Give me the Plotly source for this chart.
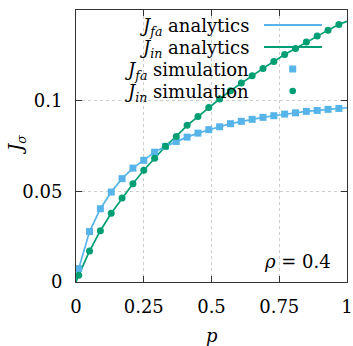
import plotly.graph_objects as go

# ---- data ----
p_sim = [0.01, 0.05, 0.09, 0.13, 0.17, 0.21, 0.25, 0.29, 0.33, 0.37, 0.41, 0.45, 0.49,
         0.53, 0.57, 0.61, 0.65, 0.69, 0.73, 0.77, 0.81, 0.85, 0.89, 0.93, 0.97]
J_fa_sim = [0.0074, 0.0278, 0.0404, 0.0496, 0.0570, 0.0628, 0.0671, 0.0716, 0.0748, 0.0775,
            0.0799, 0.0821, 0.0840, 0.0856, 0.0873, 0.0886, 0.0897, 0.0908, 0.0917, 0.0926,
            0.0933, 0.0941, 0.0946, 0.0952, 0.0957]
J_in_sim = [0.0037, 0.0171, 0.0283, 0.0379, 0.0463, 0.0542, 0.0616, 0.0683, 0.0748, 0.0803,
            0.0864, 0.0912, 0.0963, 0.1009, 0.1055, 0.1097, 0.1137, 0.1178, 0.1216, 0.1255,
            0.1288, 0.1323, 0.1356, 0.1389, 0.1420]

p_an = [0.0] + p_sim + [1.0]
J_fa_an = [0.0] + J_fa_sim + [0.0961]
J_in_an = [0.0] + J_in_sim + [0.1438]

x_ticks = [0, 0.25, 0.5, 0.75, 1]
x_tick_text = ["0", "0.25", "0.5", "0.75", "1"]
y_ticks = [0, 0.05, 0.1, 0.15]
y_tick_text = ["0", "0.05", "0.1", "0.15"]

legend_labels = ["<i>J</i><sub><i>fa</i></sub> analytics",
                 "<i>J</i><sub><i>in</i></sub> analytics",
                 "<i>J</i><sub><i>fa</i></sub> simulation",
                 "<i>J</i><sub><i>in</i></sub> simulation"]

BLUE = "#56B4E9"
GREEN = "#009E73"
FONT = "DejaVu Serif, Liberation Serif, DejaVu Sans"
FS = 18

W, H = 353, 346
ML, MR, MT, MB = 76, 6, 10, 64
PW, PH = W - ML - MR, H - MT - MB


def xp(px):
    return (px - ML) / PW


def yp(py):
    return (H - MB - py) / PH


fig = go.Figure()
fig.add_trace(go.Scatter(x=p_an, y=J_fa_an, mode="lines", line=dict(color=BLUE, width=1.7),
                         name="J_fa analytics", showlegend=False))
fig.add_trace(go.Scatter(x=p_an, y=J_in_an, mode="lines", line=dict(color=GREEN, width=1.7),
                         name="J_in analytics", showlegend=False))
fig.add_trace(go.Scatter(x=p_sim, y=J_fa_sim, mode="markers",
                         marker=dict(symbol="square", size=7, color=BLUE),
                         name="J_fa simulation", showlegend=False))
fig.add_trace(go.Scatter(x=p_sim, y=J_in_sim, mode="markers",
                         marker=dict(symbol="circle", size=7, color=GREEN),
                         name="J_in simulation", showlegend=False))

shapes = []
# opaque key box (hides grid, not data)
shapes.append(dict(type="rect", xref="paper", yref="paper", layer="between",
                   x0=xp(80), x1=xp(335), y0=yp(99.5), y1=yp(12),
                   fillcolor="white", line=dict(width=0)))
rows = [25, 47, 69, 91]
# line samples
for py, col in zip(rows[:2], [BLUE, GREEN]):
    shapes.append(dict(type="line", xref="paper", yref="paper", layer="above",
                       x0=xp(264), x1=xp(322), y0=yp(py), y1=yp(py),
                       line=dict(color=col, width=2)))
# marker samples
mx = 292.7
shapes.append(dict(type="rect", xref="paper", yref="paper", layer="above",
                   x0=xp(mx - 3.5), x1=xp(mx + 3.5), y0=yp(rows[2] + 3.5), y1=yp(rows[2] - 3.5),
                   fillcolor=BLUE, line=dict(width=0)))
shapes.append(dict(type="circle", xref="paper", yref="paper", layer="above",
                   x0=xp(mx - 3.3), x1=xp(mx + 3.3), y0=yp(rows[3] + 3.3), y1=yp(rows[3] - 3.3),
                   fillcolor=GREEN, line=dict(width=0)))

annotations = []
for py, lab in zip(rows, legend_labels):
    annotations.append(dict(xref="paper", yref="paper", x=xp(251), y=yp(py + 2),
                            xanchor="right", yanchor="middle", text=lab, showarrow=False,
                            font=dict(family=FONT, size=FS, color="black")))
annotations.append(dict(xref="paper", yref="paper", x=xp(333), y=yp(261),
                        xanchor="right", yanchor="middle", text="<i>ρ</i> = 0.4",
                        showarrow=False, font=dict(family=FONT, size=FS, color="black")))
annotations.append(dict(xref="paper", yref="paper", x=xp(17), y=yp(145),
                        xanchor="center", yanchor="middle", textangle=-90,
                        text="<i>J</i><sub><i>σ</i></sub>", showarrow=False,
                        font=dict(family=FONT, size=FS, color="black")))
annotations.append(dict(xref="paper", yref="paper", x=xp(211.5), y=yp(335),
                        xanchor="center", yanchor="middle",
                        text="<i>p</i>", showarrow=False,
                        font=dict(family=FONT, size=FS, color="black")))

axis_common = dict(showline=True, linecolor="#333333", linewidth=1, mirror="ticks",
                   ticks="inside", ticklen=6, tickcolor="#333333", tickwidth=1,
                   showgrid=True, gridcolor="#cccccc", griddash="dot", gridwidth=1,
                   zeroline=False, automargin=False,
                   tickfont=dict(family=FONT, size=FS, color="black"))

fig.update_layout(
    width=W, height=H,
    margin=dict(l=ML, r=MR, t=MT, b=MB, autoexpand=False),
    paper_bgcolor="white", plot_bgcolor="white",
    font=dict(family=FONT, size=FS, color="black"),
    xaxis=dict(range=[0, 1], tickmode="array", tickvals=x_ticks, ticktext=x_tick_text,
               ticklabelstandoff=8, **axis_common),
    yaxis=dict(range=[0, 0.15], tickmode="array", tickvals=y_ticks, ticktext=y_tick_text,
               ticklabelstandoff=9, **axis_common),
    shapes=shapes, annotations=annotations, showlegend=False,
)

fig.write_html("out.html", config={"displayModeBar": False},
               post_script="document.body.style.margin='0';")
